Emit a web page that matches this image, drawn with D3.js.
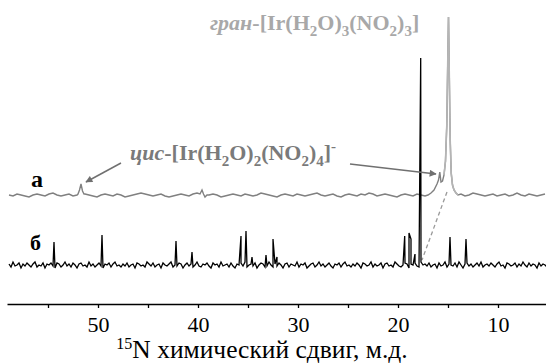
<!DOCTYPE html>
<html>
<head>
<meta charset="utf-8">
<script src="https://cdn.jsdelivr.net/npm/d3@7"></script>
<style>
  html, body { margin: 0; padding: 0; background: #fff; }
  svg { display: block; font-family: "Liberation Serif", "Times New Roman", serif; }
</style>
</head>
<body>
<div id="chart"></div>
<script>
// spectrum grid (ppm) and offsets
const ppmStart = 58.9;
const stepA = 0.4;
const stepB = 0.2;
const offsetA = 70;   // trace "а" sits above trace "б"
const offsetB = 0;

// trace а: baseline noise
const noiseA = [
  0,-1,1,0,-1,-2,0,1,0,-1,1,2,0,-1,0,1,-1,0,2,1,
  0,-1,-2,0,1,0,-1,1,0,-2,-1,0,1,2,1,0,-1,0,1,-1,
  -2,-1,0,1,0,-1,1,2,0,-1,0,1,0,-2,-1,0,1,0,-1,1,
  0,-1,0,2,1,0,-1,-2,0,1,0,-1,1,0,-1,0,1,2,0,-1,
  0,1,-1,-2,0,1,0,-1,1,0,2,1,-1,0,1,0,-1,-2,0,1,
  0,-1,1,0,-1,0,1,0,-2,-1,0,1,0,1,-1,0,2,1,0,-1,
  0,1,-1,0,1,-1,0,2,0,-1,1,0,-1,0,1
];
// trace а peaks as [ppm, intensity]
const peakA1 = [[52.0, 1], [51.85, 5], [51.7, 11], [51.55, 4], [51.4, 1]];
const peakA2 = [[39.8, 1], [39.6, 5], [39.45, 1], [39.3, -2], [39.1, 0]];
const peakCis = [[17.0, 0], [16.7, 2], [16.4, 5], [16.1, 11], [15.95, 15], [15.82, 23],
  [15.7, 13], [15.55, 14], [15.4, 20]];
const peakGran = [[15.4, 20], [15.25, 34], [15.12, 70], [15.03, 130], [14.95, 178],
  [14.87, 120], [14.78, 55], [14.68, 22], [14.55, 10], [14.4, 5], [14.2, 2], [14.0, 0]];

// trace б: baseline noise
const noiseB = [
  1,-2,3,-1,0,2,-3,1,-1,2,0,-2,1,3,-2,0,-1,2,-3,1,
  0,2,-1,-3,2,1,-2,0,3,-1,1,-2,2,0,-3,1,2,-1,0,-2,
  3,-1,1,-2,0,2,-1,-3,1,0,2,-2,1,3,-1,0,-2,1,-1,2,
  -2,0,1,-3,2,1,-1,0,-2,3,1,-1,2,-2,0,1,-3,2,0,-1,
  1,3,-2,0,-1,2,1,-3,0,2,-1,1,-2,0,3,-1,-2,1,0,2,
  -1,-3,2,0,1,-2,3,-1,0,1,-2,2,-1,-3,1,0,2,-1,3,-2,
  0,1,-1,2,-3,0,2,1,-2,-1,3,0,-2,1,-1,2,0,-3,1,2,
  -2,1,0,-1,3,-2,1,0,2,-3,-1,1,2,-2,0,3,-1,1,-2,0,
  2,-1,-3,1,0,2,-2,1,3,-1,0,-2,1,-1,2,0,-3,2,1,-1,
  0,3,-2,1,-1,0,2,-3,1,2,-1,0,-2,3,1,-1,-2,0,2,1,
  -3,1,0,2,-1,-2,3,0,1,-1,2,-2,0,1,-3,2,-1,0,3,-2,
  1,0,-1,2,-2,3,0,-3,1,2,-1,1,-2,0,2,-1,3,-2,0,1,
  -1,2,0,-2,1,3,-1,0,-3,2,1,-1,0,2,-2,1,-1,3,0,-2,
  2,-1,1,0,-3,2,-1,1,0,-2
];
// trace б sharp lines: [ppm, height]
const peaksB = [
  [54.4, 23], [49.6, 30], [42.2, 24], [40.6, 13], [35.7, 29], [35.2, 34],
  [34.6, 8], [33.2, 10], [32.5, 26], [32.1, 8], [19.33, 29], [18.9, 32],
  [18.7, 26], [18.3, 11], [17.73, 207], [14.8, 28], [13.2, 26]
];

const xTicks = [55, 50, 45, 40, 35, 30, 25, 20, 15, 10];
const xLabels = [50, 40, 30, 20, 10];

const W = 546, H = 363;
const svg = d3.select('#chart').append('svg').attr('width', W).attr('height', H);

const x = d3.scaleLinear().domain([59.1, 5.2]).range([7, 546]);
const y = d3.scaleLinear().domain([0, 250]).range([265, 15]);

svg.append('defs').append('clipPath').attr('id', 'clip')
  .append('rect').attr('x', 7).attr('y', 0).attr('width', 539).attr('height', 300);

// build trace а: noise outside peak regions + peak points
const groupsA = [peakA1, peakA2, peakCis, peakGran];
const inPeak = p => groupsA.some(g => p <= g[0][0] && p >= g[g.length - 1][0]);
let traceA = noiseA.map((v, i) => [ppmStart - i * stepA, v]).filter(d => !inPeak(d[0]));
groupsA.forEach(g => { traceA = traceA.concat(g); });
traceA.sort((a, b) => b[0] - a[0]);

let traceB = noiseB.map((v, i) => [ppmStart - i * stepB, v]).concat(peaksB);
traceB.sort((a, b) => b[0] - a[0]);

const lineA = d3.line().x(d => x(d[0])).y(d => y(d[1] + offsetA));
const lineB = d3.line().x(d => x(d[0])).y(d => y(d[1] + offsetB));

const plot = svg.append('g').attr('clip-path', 'url(#clip)');

plot.append('path').datum(traceA).attr('d', lineA)
  .attr('fill', 'none').attr('stroke', '#808080').attr('stroke-width', 1.4);
plot.append('path').datum(peakGran).attr('d', lineA)
  .attr('fill', 'none').attr('stroke', '#b5b5b5').attr('stroke-width', 1.6);

// dashed connector between the two traces
plot.append('line')
  .attr('x1', x(15.1)).attr('y1', y(offsetA + 3))
  .attr('x2', x(17.6)).attr('y2', y(offsetB + 5))
  .attr('stroke', '#999').attr('stroke-width', 1.3).attr('stroke-dasharray', '4,3');

plot.append('path').datum(traceB).attr('d', lineB)
  .attr('fill', 'none').attr('stroke', '#000').attr('stroke-width', 1.3);

// axis
const axis = d3.axisBottom(x).tickValues(xTicks).tickSize(4).tickSizeOuter(0).tickPadding(8)
  .tickFormat(d => xLabels.includes(d) ? d : '');
const gx = svg.append('g').attr('transform', 'translate(0,304)').call(axis);
gx.select('.domain').attr('stroke-width', 1.5);
gx.selectAll('.tick line').attr('stroke-width', 1.3);
gx.selectAll('.tick text').attr('font-size', 22).attr('font-family', '"Liberation Serif", serif').attr('fill', '#000');

const title = svg.append('text').attr('x', 262).attr('y', 358).attr('text-anchor', 'middle')
  .attr('font-size', 25.5);
title.append('tspan').attr('font-size', 16).attr('dy', -9).text('15');
title.append('tspan').attr('dy', 9).text('N химический сдвиг, м.д.');

// arrows
const defs = svg.select('defs');
defs.append('marker').attr('id', 'arr').attr('viewBox', '0 0 10 10').attr('refX', 9).attr('refY', 5)
  .attr('markerWidth', 9).attr('markerHeight', 7).attr('markerUnits', 'userSpaceOnUse').attr('orient', 'auto')
  .append('path').attr('d', 'M0,0 L10,5 L0,10 z').attr('fill', '#707070');

svg.append('line').attr('x1', x(47.7)).attr('y1', y(102)).attr('x2', x(51.2)).attr('y2', y(83))
  .attr('stroke', '#707070').attr('stroke-width', 1.5).attr('marker-end', 'url(#arr)');
svg.append('line').attr('x1', x(24.8)).attr('y1', y(101)).attr('x2', x(16.2)).attr('y2', y(91))
  .attr('stroke', '#707070').attr('stroke-width', 1.5).attr('marker-end', 'url(#arr)');

// labels
function formula(g, parts) {
  parts.forEach(p => {
    const t = g.append('tspan').text(p.t);
    if (p.i) t.attr('font-style', 'italic');
    if (p.sub) t.attr('font-size', 15).attr('dy', 6);
    if (p.sup) t.attr('font-size', 15).attr('dy', -9);
    if (p.back) t.attr('dy', p.back);
  });
}
const cis = svg.append('text').attr('x', 130).attr('y', 160).attr('font-size', 22)
  .attr('font-weight', 'bold').attr('fill', '#7a7a7a');
formula(cis, [
  { t: 'цис', i: true }, { t: '-[Ir(H' }, { t: '2', sub: true }, { t: 'O)', back: -6 },
  { t: '2', sub: true }, { t: '(NO', back: -6 }, { t: '2', sub: true }, { t: ')', back: -6 },
  { t: '4', sub: true }, { t: ']', back: -6 }, { t: '-', sup: true }
]);

const gran = svg.append('text').attr('x', 210).attr('y', 30).attr('font-size', 22)
  .attr('font-weight', 'bold').attr('fill', '#a8a8a8');
formula(gran, [
  { t: 'гран', i: true }, { t: '-[Ir(H' }, { t: '2', sub: true }, { t: 'O)', back: -6 },
  { t: '3', sub: true }, { t: '(NO', back: -6 }, { t: '2', sub: true }, { t: ')', back: -6 },
  { t: '3', sub: true }, { t: ']', back: -6 }
]);

svg.append('text').attr('x', 31).attr('y', 187).attr('font-size', 24).attr('font-weight', 'bold').text('а');
svg.append('text').attr('x', 30).attr('y', 250).attr('font-size', 22).attr('font-weight', 'bold').text('б');
</script>
</body>
</html>
